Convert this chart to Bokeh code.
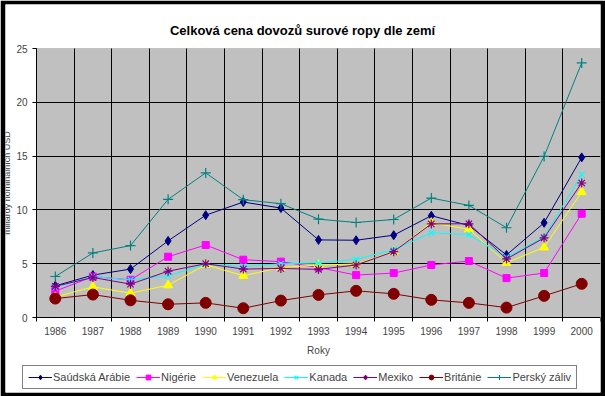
from bokeh.plotting import figure
from bokeh.models import FixedTicker, Legend, LegendItem, BoxAnnotation, Label
from bokeh.embed import file_html
from bokeh.resources import INLINE

years = [1986, 1987, 1988, 1989, 1990, 1991, 1992, 1993, 1994, 1995, 1996, 1997, 1998, 1999, 2000]
saudi = [2.94, 3.94, 4.5, 7.12, 9.51, 10.73, 10.17, 7.21, 7.18, 7.65, 9.46, 8.55, 5.81, 8.8, 14.88]
nigeria = [2.45, 3.8, 3.5, 5.65, 6.74, 5.37, 5.19, 4.65, 3.94, 4.13, 4.88, 5.25, 3.66, 4.13, 9.64]
venezuela = [1.9, 2.85, 2.26, 3.0, 4.9, 3.88, 4.65, 4.88, 4.97, 6.12, 8.8, 8.2, 5.09, 6.52, 11.66]
kanada = [2.8, 3.8, 3.5, 3.88, 4.95, 4.75, 5.0, 5.06, 5.4, 6.31, 7.87, 7.7, 5.59, 7.5, 13.29]
mexico = [2.9, 3.72, 3.1, 4.3, 5.0, 4.5, 4.56, 4.47, 4.88, 6.12, 8.7, 8.71, 5.44, 7.4, 12.5]
britanie = [1.76, 2.13, 1.6, 1.23, 1.36, 0.86, 1.57, 2.1, 2.48, 2.2, 1.64, 1.36, 0.92, 2.01, 3.13]
persky = [3.81, 6.0, 6.68, 10.98, 13.44, 10.95, 10.58, 9.14, 8.83, 9.11, 11.1, 10.42, 8.34, 14.97, 23.66]
y_ticks = [0, 5, 10, 15, 20, 25]

series = [
    ("Saúdská Arábie", saudi, "#000080", "diamond", 9),
    ("Nigérie", nigeria, "#FF00FF", "square", 7),
    ("Venezuela", venezuela, "#FFFF00", "triangle", 9),
    ("Kanada", kanada, "#00FFFF", "x", 8),
    ("Mexiko", mexico, "#800080", "asterisk", 9),
    ("Británie", britanie, "#800000", "circle", 11),
    ("Perský záliv", persky, "#008080", "cross", 10),
]

FONT = "Liberation Sans"
W, H = 605, 396
# layout (pixels): white chart area and grey plot area
FR_L, FR_R, FR_T, FR_B = 5, 600, 4, 392
PA_L, PA_T, PA_B = 36, 48, 317

x0, x1 = years[0] - 0.5, years[-1] + 0.5
xs = (FR_R - PA_L) / (x1 - x0)
ys = (PA_B - PA_T) / (y_ticks[-1] - y_ticks[0])
x_start = x0 - (PA_L - FR_L) / xs
y_start = y_ticks[0] - (FR_B - PA_B) / ys
y_end = y_ticks[-1] + (PA_T - FR_T) / ys


def px_x(px):
    return x0 + (px - PA_L) / xs


def px_y(py):
    return y_ticks[0] + (PA_B - py) / ys


boundaries = [y - 0.5 for y in years] + [years[-1] + 0.5]

p = figure(width=W, height=H, output_backend="svg", toolbar_location=None,
           x_range=(x_start, x1), y_range=(y_start, y_end),
           min_border_left=FR_L, min_border_right=W - FR_R,
           min_border_top=FR_T, min_border_bottom=H - FR_B)
p.background_fill_color = "white"
p.border_fill_color = "black"
p.outline_line_color = None

plot_area = BoxAnnotation(left=x0, right=x1, bottom=y_ticks[0], top=y_ticks[-1],
                          fill_color="#C0C0C0", fill_alpha=1,
                          line_color="#808080", line_width=1, level="image")
p.add_layout(plot_area)

# x axis
p.xaxis.fixed_location = y_ticks[0]
p.xaxis.bounds = (x0, x1)
p.xaxis.ticker = FixedTicker(ticks=years, minor_ticks=boundaries)
p.xaxis.major_tick_out = 0
p.xaxis.major_tick_in = 0
p.xaxis.minor_tick_out = 4
p.xaxis.minor_tick_in = 0
p.xaxis.minor_tick_line_color = "black"
p.xaxis.major_label_standoff = 5
p.xaxis.axis_label = "Roky"
p.xaxis.axis_label_standoff = 7
p.xaxis.axis_label_text_font = FONT
p.xaxis.axis_label_text_font_size = "10px"
p.xaxis.axis_label_text_font_style = "normal"
p.xaxis.major_label_text_font = FONT
p.xaxis.major_label_text_font_size = "10px"
p.xaxis.axis_line_color = "black"

# y axis
p.yaxis.fixed_location = x0
p.yaxis.bounds = (y_ticks[0], y_ticks[-1])
p.yaxis.ticker = FixedTicker(ticks=y_ticks)
p.yaxis.major_tick_out = 4
p.yaxis.major_tick_in = 0
p.yaxis.minor_tick_line_color = None
p.yaxis.major_label_standoff = 5
p.yaxis.major_label_text_font = FONT
p.yaxis.major_label_text_font_size = "10px"
p.yaxis.axis_line_color = "black"
p.yaxis.axis_label = "miliardy nominálních USD"
p.yaxis.axis_label_standoff = 1
p.yaxis.axis_label_text_font = FONT
p.yaxis.axis_label_text_font_size = "9px"
p.yaxis.axis_label_text_font_style = "normal"

p.xgrid.ticker = FixedTicker(ticks=boundaries)
p.xgrid.cross_bounds = (y_ticks[0], y_ticks[-1])
p.xgrid.grid_line_color = "black"
p.xgrid.grid_line_width = 1
p.ygrid.ticker = FixedTicker(ticks=y_ticks[1:-1])
p.ygrid.cross_bounds = (x0, x1)
p.ygrid.grid_line_color = "black"
p.ygrid.grid_line_width = 1

title = Label(x=px_x(302), y=px_y(30), text="Celková cena dovozů surové ropy dle zemí",
              text_align="center", text_baseline="middle",
              text_font=FONT, text_font_size="13px", text_font_style="bold",
              text_color="black")
p.add_layout(title)

items = []
for name, vals, color, marker, size in series:
    r1 = p.line(years, vals, line_color=color, line_width=1)
    if marker in ("x", "asterisk", "cross"):
        r2 = p.scatter(years, vals, marker=marker, size=size, line_color=color, line_width=1.2)
    else:
        r2 = p.scatter(years, vals, marker=marker, size=size, fill_color=color, line_color=color)
    items.append(LegendItem(label=name, renderers=[r1, r2]))

legend = Legend(items=items, orientation="horizontal", location=(17, 3),
                label_text_font=FONT, label_text_font_size="11px",
                glyph_width=24, glyph_height=12, label_height=12, label_standoff=1,
                spacing=6, padding=5, margin=0,
                border_line_color="black", border_line_width=1,
                background_fill_color="white", background_fill_alpha=1)
p.add_layout(legend, "center")

open("out.html", "w").write(file_html(p, INLINE))
